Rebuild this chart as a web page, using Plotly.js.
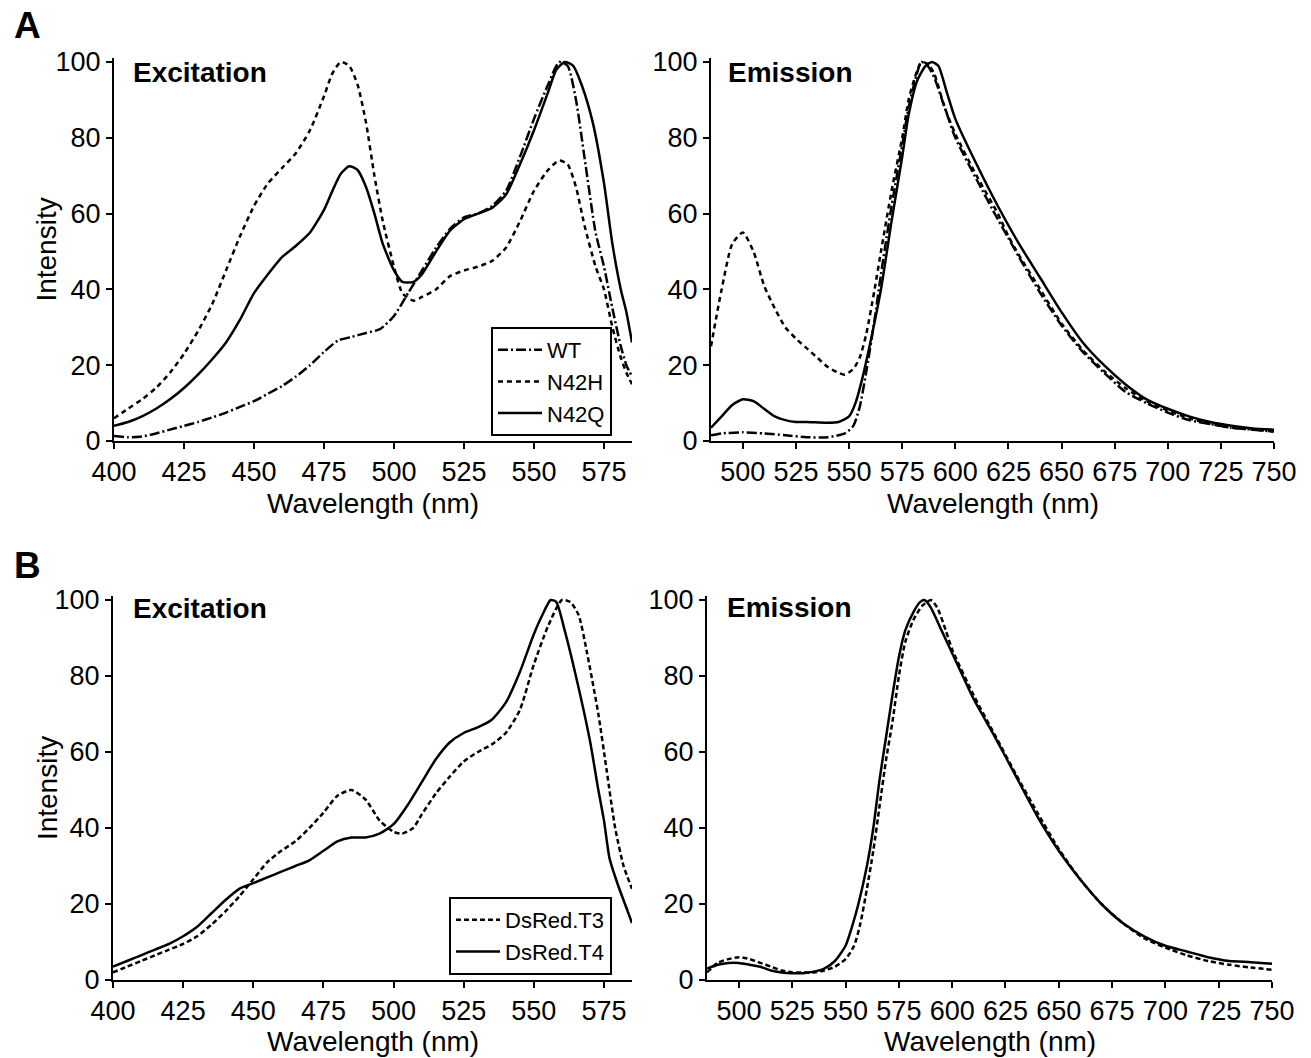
<!DOCTYPE html>
<html>
<head>
<meta charset="utf-8">
<script src="https://cdn.plot.ly/plotly-3.0.1.min.js"></script>
<style>html,body{margin:0;padding:0;background:#fff}#plot{width:1311px;height:1058px}</style>
</head>
<body>
<div id="plot"></div>
<script>
// ---------- Panel A: Excitation ----------
const exWT_x = [400,405,410,415,420,425,430,435,440,445,450,455,460,465,470,475,480,485,490,495,500,505,510,515,520,525,530,535,540,545,550,555,559,562,565,568,572,575,578,581,583,585];
const exWT_y = [1.3,1,1.2,2,3,4,5,6.2,7.5,9,10.5,12.5,14.5,17,20,23.5,26.5,27.5,28.5,29.5,33,39,45,51,56,59,60,62,66,75,85,94,100,99,90,75,55,46,35,25,20,17];

const exN42H_x = [400,405,410,415,420,425,430,435,440,445,450,455,460,465,470,475,478,481,484,487,490,493,496,500,503,507,510,515,520,525,530,535,540,545,550,555,559,562,565,568,572,575,578,581,583,585];
const exN42H_y = [6,8.5,11,14,18,23,29,36,45,54,62,68,72,76,82,91,97,100,99,94,84,70,58,46,39,37,38,40,43.5,45,46,47.5,51,58,66,71.5,74,73,67,57,46,40,30,22,18,15];

const exN42Q_x = [400,405,410,415,420,425,430,435,440,445,450,455,460,465,470,475,478,481,484,487,490,493,496,500,503,507,510,515,520,525,530,535,540,545,550,555,558,561,564,567,571,575,578,581,583,585];
const exN42Q_y = [4,5,6.5,8.5,11,14,17.5,21.5,26,32,39,44,48.5,51.5,55,61,66,70.5,72.5,71.5,67,60,52,45,42,42,44,50,55.5,58.5,60,61.5,65,73,82,92,98,100,99,94,84,68,52,40,34,26];

// ---------- Panel A: Emission ----------
const emWT_x = [485,490,500,510,520,530,540,548,552,555,558,562,565,570,575,578,581,584,587,590,595,600,610,620,625,630,640,650,660,670,680,690,700,710,720,730,740,750];
const emWT_y = [1.5,2,2.3,2,1.5,1,1,2,4,9,18,32,44,62,78,88,95,100,99,96,88,80,69,58.5,53.5,48.5,39,30.5,23.5,18,13,10,7.5,5.5,4.5,3.5,3,2.5];

const emN42H_x = [485,490,495,500,505,510,515,520,525,530,535,540,545,548,552,555,558,562,565,570,575,578,581,584,587,590,595,600,610,620,625,630,640,650,660,670,680,690,700,710,720,730,740,750];
const emN42H_y = [25,40,52,55,50,41,35,30,27,24.5,22,19.5,18,17.5,19,22,28,40,50,66,80,90,96,100,99.5,97,88,81,70,60,54,49,40,31,24,18.5,14,10.5,8,6,4.5,3.5,3,2.5];

const emN42Q_x = [485,490,495,500,505,510,515,520,525,530,540,545,550,553,556,560,565,570,575,578,582,586,589,592,596,600,610,620,630,640,650,660,670,680,690,700,710,720,730,740,750];
const emN42Q_y = [3.5,6.5,9.5,11,10.5,8.5,6.5,5.5,5,5,4.8,5,6.5,10,16,26,40,58,75,86,95,99,100,99,92,85,73,62,52,43,34,26,20,15,11,8.5,6.5,5,4,3.3,3];

// ---------- Panel B: Excitation ----------
const exT3_x = [400,405,410,415,420,425,430,435,440,445,450,455,460,465,470,475,480,485,490,495,500,503,507,510,515,520,525,530,535,540,545,550,555,560,563,566,569,573,576,579,582,585];
const exT3_y = [2,3.5,5,6.5,8,9.5,11.5,14.5,18,22,26.5,31,34,36.5,40,44,48.5,50,47.5,42,39,38.5,40,43.5,49,53.5,57.5,60,62,65,71,83,93,100,99.5,96,86,70,55,40,30,24];

const exT4_x = [400,405,410,415,420,425,430,435,440,445,450,455,460,465,470,475,480,485,490,495,500,505,510,515,520,525,530,535,540,545,550,553,556,558,561,565,570,573,575,577,580,583,585];
const exT4_y = [3.5,5,6.5,8,9.5,11.5,14,17.5,21,24,25.5,27,28.5,30,31.5,34,36.5,37.5,37.5,38.5,41,46,52,58,62.5,65,66.5,68.5,73,81,91,96,100,99.5,92,80,63,50,42,32,25,19,15];

// ---------- Panel B: Emission ----------
const emT3_x = [485,490,495,500,505,510,515,520,525,530,535,540,545,550,554,557,560,563,566,569,572,575,578,582,586,590,593,597,600,610,620,630,640,650,660,670,680,690,700,710,720,730,740,750];
const emT3_y = [2,4.5,5.5,6,5.5,4.5,3.5,2.5,2,2,2,2.5,3.5,5.5,9,15,24,34,46,58,68,80,89,95,98.5,100,98,92,87,75,64.5,54,44,34.5,26.5,20,15,11,8.5,6.5,5,4,3.3,2.7];

const emT4_x = [485,490,495,500,505,510,515,520,525,530,535,540,545,550,553,556,560,563,566,569,572,575,578,582,585,587,590,595,600,610,620,630,640,650,660,670,680,690,700,710,720,730,740,750];
const emT4_y = [3,4,4.5,4.5,4,3.5,2.5,2,1.8,1.8,2.2,3,5,9,14,20,30,40,53,64,75,85,92,97,99.5,100,98,92,86,74,64,53.5,43,34,26.5,20,15,11.5,9,7.5,6,5,4.7,4.3];

const legendA = ["WT","N42H","N42Q"];
const legendB = ["DsRed.T3","DsRed.T4"];
const panelTitles = ["Excitation","Emission","Excitation","Emission"];
const panelLetters = ["A","B"];
const xTitle = "Wavelength (nm)";
const yTitle = "Intensity";

const LW = 2.5;
const dashWT = "10px,3px,2px,3px";
const dashH = "5px,4px";
const dashT3 = "5px,3px";

function tr(x, y, name, dash, xa, ya, show, leg) {
  return {x: x, y: y, name: name, type: "scatter", mode: "lines",
    line: {color: "#000", width: LW, dash: dash, shape: "spline", smoothing: 0.6},
    xaxis: xa, yaxis: ya, showlegend: show, legend: leg || "legend", hoverinfo: "skip"};
}

const data = [
  tr(exWT_x, exWT_y, legendA[0], dashWT, "x", "y", true, "legend"),
  tr(exN42H_x, exN42H_y, legendA[1], dashH, "x", "y", true, "legend"),
  tr(exN42Q_x, exN42Q_y, legendA[2], "solid", "x", "y", true, "legend"),
  tr(emWT_x, emWT_y, legendA[0], dashWT, "x2", "y2", false),
  tr(emN42H_x, emN42H_y, legendA[1], dashH, "x2", "y2", false),
  tr(emN42Q_x, emN42Q_y, legendA[2], "solid", "x2", "y2", false),
  tr(exT3_x, exT3_y, legendB[0], dashT3, "x3", "y3", true, "legend2"),
  tr(exT4_x, exT4_y, legendB[1], "solid", "x3", "y3", true, "legend2"),
  tr(emT3_x, emT3_y, legendB[0], dashT3, "x4", "y4", false),
  tr(emT4_x, emT4_y, legendB[1], "solid", "x4", "y4", false)
];

const FONT = "Liberation Sans, Arial, sans-serif";
const tickFont = {family: FONT, size: 27, color: "#000"};
const titleFont = {family: FONT, size: 28, color: "#000"};

function xax(dom, range, anchor, t0) {
  return {domain: dom, range: range, anchor: anchor, showgrid: false, zeroline: false,
    showline: true, linecolor: "#000", linewidth: 2, ticks: "outside", ticklen: 6, tickwidth: 2,
    tickcolor: "#000", tick0: t0, dtick: 25, tickfont: tickFont, fixedrange: true};
}
function yax(dom, anchor) {
  return {domain: dom, range: [0, 101], anchor: anchor, showgrid: false, zeroline: false,
    showline: true, linecolor: "#000", linewidth: 2, ticks: "outside", ticklen: 6, tickwidth: 2,
    tickcolor: "#000", tick0: 0, dtick: 20, tickfont: tickFont, fixedrange: true};
}

const W = 1311, H = 1058;
const px = v => v / W, py = v => 1 - v / H;

const legFont = {family: FONT, size: 22, color: "#000"};

function xTitleAnn(xref, ypix) {
  return {text: xTitle, xref: xref + " domain", x: 0.5, yref: "paper", y: py(ypix), xanchor: "center", yanchor: "middle",
    showarrow: false, font: titleFont};
}
function yTitleAnn(yref, xpix) {
  return {text: yTitle, xref: "paper", x: px(xpix), yref: yref + " domain", y: 0.5, xanchor: "center", yanchor: "middle",
    textangle: -90, showarrow: false, font: titleFont};
}
function panelAnn(text, xpix, ypix, size) {
  return {text: "<b>" + text + "</b>", x: px(xpix), y: py(ypix), xref: "paper", yref: "paper", xanchor: "left", yanchor: "middle",
    showarrow: false, font: {family: FONT, size: size, color: "#000"}};
}

const layout = {
  width: W, height: H, margin: {l: 0, r: 0, t: 0, b: 0},
  paper_bgcolor: "#fff", plot_bgcolor: "#fff",
  font: {family: FONT, color: "#000"},
  xaxis: xax([px(114), px(632)], [400, 585], "y", 400),
  yaxis: yax([py(441), py(58.2)], "x"),
  xaxis2: xax([px(711), px(1274)], [485, 750], "y2", 500),
  yaxis2: yax([py(441), py(58.2)], "x2"),
  xaxis3: xax([px(113), px(632)], [400, 585], "y3", 400),
  yaxis3: yax([py(980), py(596.2)], "x3"),
  xaxis4: xax([px(707), px(1272)], [485, 750], "y4", 500),
  yaxis4: yax([py(980), py(596.2)], "x4"),
  legend: {x: px(612), xanchor: "right", y: py(436), yanchor: "bottom", bgcolor: "#fff",
    bordercolor: "#000", borderwidth: 2, font: legFont, tracegroupgap: 0, itemwidth: 44},
  legend2: {x: px(612), xanchor: "right", y: py(975), yanchor: "bottom", bgcolor: "#fff",
    bordercolor: "#000", borderwidth: 2, font: legFont, tracegroupgap: 0, itemwidth: 44},
  annotations: [
    {text: "<b>" + panelLetters[0] + "</b>", x: px(27), y: py(25), xref: "paper", yref: "paper", xanchor: "center", yanchor: "middle", showarrow: false, font: {family: FONT, size: 37, color: "#000"}},
    {text: "<b>" + panelLetters[1] + "</b>", x: px(27), y: py(565), xref: "paper", yref: "paper", xanchor: "center", yanchor: "middle", showarrow: false, font: {family: FONT, size: 37, color: "#000"}},
    panelAnn(panelTitles[0], 131, 73, 28),
    panelAnn(panelTitles[1], 726, 73, 28),
    panelAnn(panelTitles[2], 131, 608, 28),
    panelAnn(panelTitles[3], 725, 607, 28),
    xTitleAnn("x", 503), xTitleAnn("x2", 503), xTitleAnn("x3", 1041), xTitleAnn("x4", 1041),
    yTitleAnn("y", 47), yTitleAnn("y3", 47)
  ]
};

Plotly.newPlot("plot", data, layout, {staticPlot: true, displayModeBar: false});
</script>
</body>
</html>
